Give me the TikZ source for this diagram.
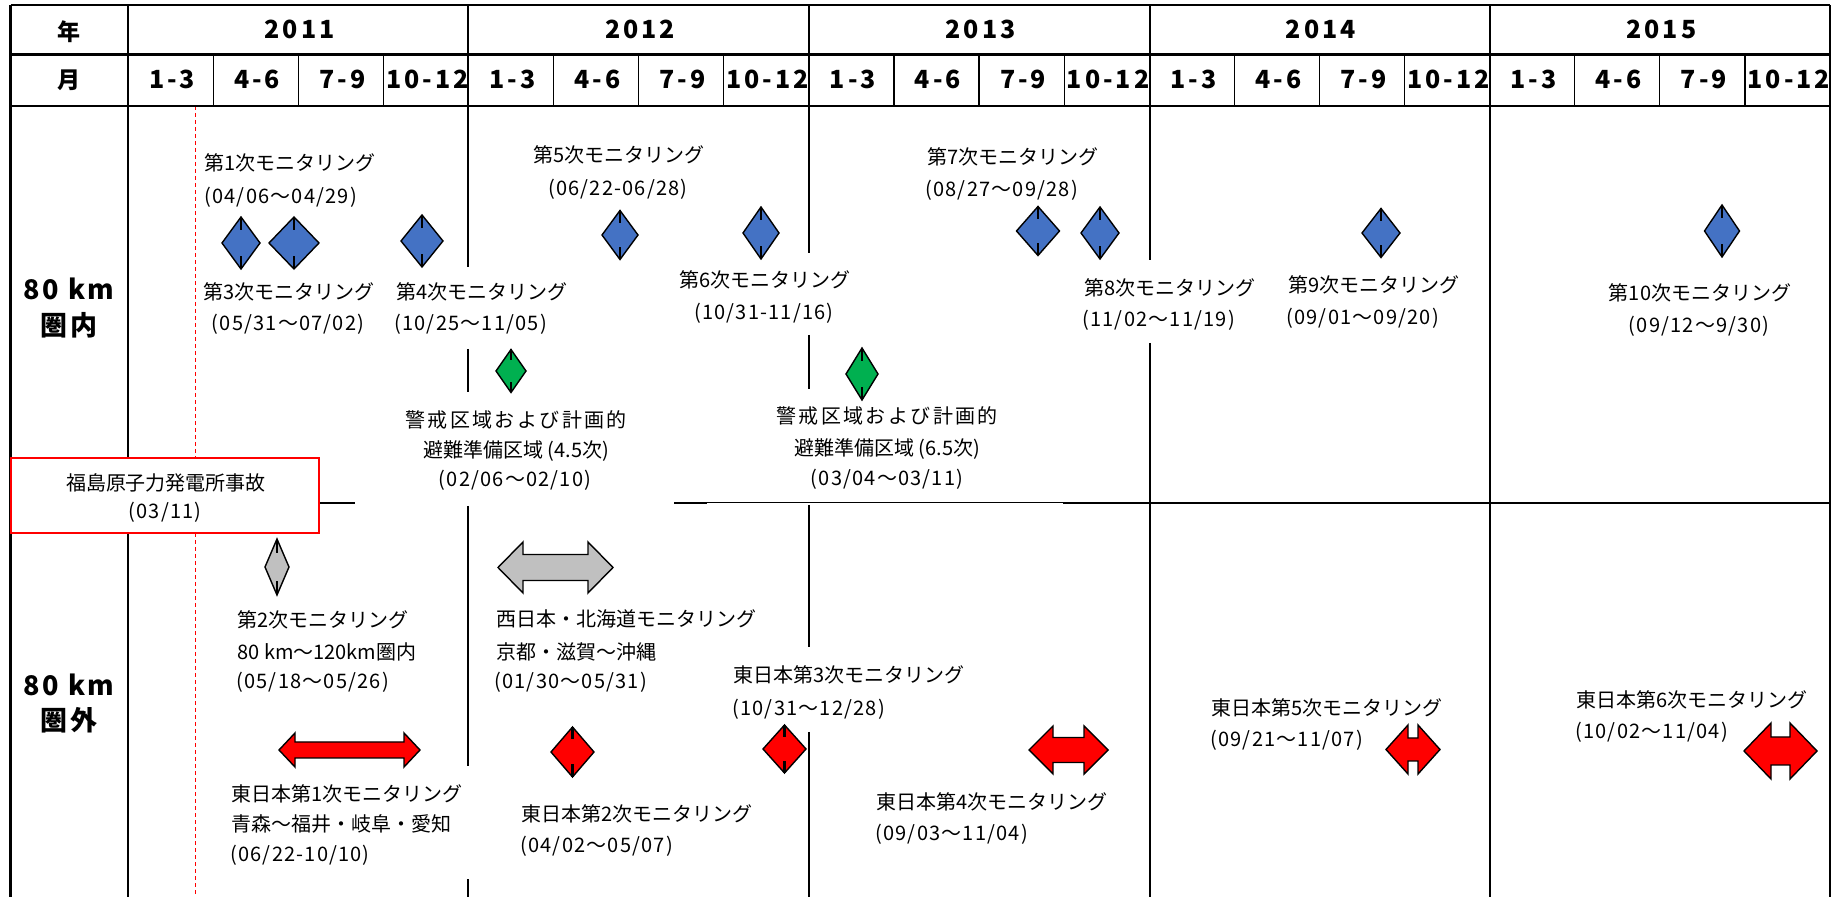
\documentclass[tikz,border=0pt]{standalone}
\usepackage{fontspec}
\setmainfont{Noto Sans CJK JP}
\newfontfamily\jp{Noto Sans CJK JP}
\newfontfamily\jpd{Noto Sans CJK JP}[LetterSpace=6]
\newfontfamily\hdnum{Noto Sans CJK JP}[LetterSpace=12]
\newfontfamily\rowf{Noto Sans CJK JP}[LetterSpace=10]
\usetikzlibrary{shapes.geometric,calc}
\definecolor{mblue}{HTML}{4472C4}
\definecolor{mgreen}{HTML}{00B050}
\definecolor{mgray}{HTML}{C0C0C0}
\definecolor{mred}{HTML}{FF0000}
\tikzset{
  gridthick/.style={line width=1.2pt,black},
  gridthin/.style={line width=0.6pt,black},
  mk/.style={diamond,draw=black,line width=0.7pt,inner sep=0pt,outer sep=0pt},
  tk/.style={line width=1.4pt,black},
  arrsh/.style={draw=black,line width=0.7pt,line join=miter},
  lbl/.style={font=\jp\fontsize{10pt}{12pt}\selectfont,inner sep=0pt,anchor=base west},
  lblc/.style={lbl,anchor=base},
  dlbl/.style={font=\jpd\fontsize{10pt}{12pt}\selectfont,inner sep=0pt,anchor=base west},
  dlblc/.style={dlbl,anchor=base},
  hdr/.style={font=\hdnum\bfseries\fontsize{12.5pt}{14pt}\selectfont,inner sep=0pt,anchor=base},
  hdrj/.style={font=\jp\bfseries\fontsize{11.5pt}{12pt}\selectfont,inner sep=0pt,anchor=base},
  rowl/.style={font=\rowf\bfseries\fontsize{13.5pt}{14pt}\selectfont,inner sep=0pt,anchor=base},
}
\newcommand\dia[6]{%
  \node[mk,fill=#6,minimum width=#4*0.5pt,minimum height=#5*0.5pt] (#1) at (#2,#3) {};
  \draw[tk] (#1.north) -- ($(#1.north)!0.25!(#1.south)$);
  \draw[tk] (#1.south) -- ($(#1.south)!0.25!(#1.north)$);}
% cx cy halfwidth halfheight halfshaft headlength colour
\newcommand\lrarrow[7]{%
  \draw[arrsh,fill=#7] ({#1-#3},#2) -- ({#1-#3+#6},{#2-#4}) -- ({#1-#3+#6},{#2-#5})
   -- ({#1+#3-#6},{#2-#5}) -- ({#1+#3-#6},{#2-#4}) -- ({#1+#3},#2)
   -- ({#1+#3-#6},{#2+#4}) -- ({#1+#3-#6},{#2+#5}) -- ({#1-#3+#6},{#2+#5})
   -- ({#1-#3+#6},{#2+#4}) -- cycle;}
\newcommand\tl[4]{\node[lbl] (#1) at (#2,#3+8) {#4};}
\newcommand\tc[4]{\node[lblc] (#1) at (#2,#3+8) {#4};}
\newcommand\dl[4]{\node[dlbl] (#1) at (#2,#3+8) {#4};}
\newcommand\dc[4]{\node[dlblc] (#1) at (#2,#3+8) {#4};}
\begin{document}
\begin{tikzpicture}[x=0.5pt,y=-0.5pt]
\useasboundingbox (0,0) rectangle (1843,897);
\fill[white] (0,0) rectangle (1843,897);
% red dashed line (accident date)
\draw[mred,line width=0.5pt,dash pattern=on 2pt off 1.5pt] (195,106) -- (195,897);
% header grid
\draw[gridthick] (10.5,5) -- (1830,5);
\draw[gridthick] (10.5,54.5) -- (1830,54.5);
\draw[gridthick] (10.5,106) -- (1830,106);
\draw[gridthick] (10.5,5) -- (10.5,897);
\draw[gridthick] (128,5) -- (128,897);
\draw[gridthick] (1490,5) -- (1490,897);
\draw[gridthick] (1830,5) -- (1830,897);
\draw[gridthick] (468,5) -- (468,267);
\draw[gridthick] (468,349) -- (468,392);
\draw[gridthick] (468,506) -- (468,766);
\draw[gridthick] (468,879) -- (468,897);
\draw[gridthick] (809,5) -- (809,253);
\draw[gridthick] (809,335) -- (809,389);
\draw[gridthick] (809,505) -- (809,647);
\draw[gridthick] (809,732) -- (809,897);
\draw[gridthick] (1150,5) -- (1150,260);
\draw[gridthick] (1150,343) -- (1150,897);
\foreach \k in {1,2,3,5,6,7,9,10,11,13,14,15,17,18,19}
  \draw[gridthin] ({128+85.1*\k},54.5) -- ({128+85.1*\k},106);
% middle separator
\draw[gridthick] (10.5,503) -- (355,503);
\draw[gridthick] (674,503) -- (707,503);
\draw[line width=0.5pt] (707,503) -- (1063,503);
\draw[gridthick] (1063,503) -- (1830,503);
% header texts
\node[hdrj] (nen) at (69,41) {年};
\node[hdrj] (tsuki) at (69,89) {月};
\foreach \yr [count=\i from 0] in {2011,2012,2013,2014,2015}
  \node[hdr] (y\yr) at ({128+340.4*(\i+0.5)+1.5},39) {\yr};
\foreach \yi in {0,...,4}
  \foreach \q [count=\qi from 0] in {1-3,4-6,7-9,10-12}
    \node[hdr] (q\yi\qi) at ({128+85.1*(4*\yi+\qi+0.5)+1.5},89) {\q};
% row labels
\node[rowl] (in80) at (69,300) {80 km};
\node[rowl] (inken) at (69,336) {圏内};
\node[rowl] (out80) at (69,696) {80 km};
\node[rowl] (outken) at (69,731) {圏外};
% accident box
\node[draw=mred,line width=1pt,fill=white,minimum width=154pt,minimum height=37.5pt,inner sep=0pt] (acc) at (165,495.5) {};
\node[lblc] (acca) at (166,491) {福島原子力発電所事故};
\node[dlblc] (accb) at (165,519) {(03/11)};
% markers inside 80 km
\dia{d1}{241}{243}{38}{52}{mblue}
\dia{d3}{294}{243}{50}{52}{mblue}
\dia{d4}{422}{241}{42}{52}{mblue}
\dia{d5}{620}{235}{36}{49}{mblue}
\dia{d6}{761}{233}{36}{52}{mblue}
\dia{d7}{1038}{231}{43}{49}{mblue}
\dia{d8}{1100}{233}{38}{52}{mblue}
\dia{d9}{1381}{233}{38}{49}{mblue}
\dia{d10}{1722}{231}{35}{52}{mblue}
\dia{g45}{511}{371}{30}{43}{mgreen}
\dia{g65}{862}{374}{32}{52}{mgreen}
% markers outside 80 km
\dia{s2}{277}{567}{24}{56}{mgray}
\dia{r2}{572.5}{752}{43}{50}{mred}
\dia{r3}{784.5}{749}{43}{48}{mred}
\lrarrow{555.5}{567.5}{57.5}{25.5}{13}{25}{mgray}
\lrarrow{349.5}{750}{70.5}{17}{8}{16}{mred}
\lrarrow{1068.5}{750}{39.5}{24}{12.5}{24}{mred}
\lrarrow{1413}{749.5}{27}{24.5}{11.5}{22}{mred}
\lrarrow{1780.5}{751}{36.5}{28}{14}{27}{mred}
% labels inside 80 km
\tl{t1a}{204}{163}{第1次モニタリング}
\dl{t1b}{204}{196}{(04/06～04/29)}
\tc{t3a}{289}{292}{第3次モニタリング}
\dc{t3b}{288}{323}{(05/31～07/02)}
\tl{t4a}{396}{292}{第4次モニタリング}
\dl{t4b}{394}{323}{(10/25～11/05)}
\tc{w45a}{516}{420}{\addfontfeature{LetterSpace=12}警戒区域および計画的}
\tc{w45b}{516}{450}{避難準備区域 (4.5次)}
\dc{w45c}{515}{479}{(02/06～02/10)}
\tc{t5a}{619}{155}{第5次モニタリング}
\dc{t5b}{618}{188}{(06/22-06/28)}
\tc{t6a}{765}{280}{第6次モニタリング}
\dc{t6b}{764}{312}{(10/31-11/16)}
\tl{t7a}{927}{157}{第7次モニタリング}
\dl{t7b}{925}{189}{(08/27～09/28)}
\tc{w65a}{887}{416}{\addfontfeature{LetterSpace=12}警戒区域および計画的}
\tc{w65b}{887}{448}{避難準備区域 (6.5次)}
\dc{w65c}{887}{478}{(03/04～03/11)}
\tl{t8a}{1084}{288}{第8次モニタリング}
\dl{t8b}{1082}{319}{(11/02～11/19)}
\tl{t9a}{1288}{285}{第9次モニタリング}
\dl{t9b}{1286}{317}{(09/01～09/20)}
\tc{t10a}{1700}{293}{第10次モニタリング}
\dc{t10b}{1699}{325}{(09/12～9/30)}
% labels outside 80 km
\tl{t2a}{237}{620}{第2次モニタリング}
\tl{t2b}{237}{652}{80 km～120km圏内}
\dl{t2c}{236}{681}{(05/18～05/26)}
\tl{wja}{496}{619}{西日本・北海道モニタリング}
\tl{wjb}{496}{652}{京都・滋賀～沖縄}
\dl{wjc}{494}{681}{(01/30～05/31)}
\tl{e1a}{231}{793}{東日本第1次モニタリング}
\tl{e1b}{231}{824}{青森～福井・岐阜・愛知}
\dl{e1c}{230}{854}{(06/22-10/10)}
\tl{e2a}{521}{813}{東日本第2次モニタリング}
\dl{e2b}{520}{844}{(04/02～05/07)}
\tl{e3a}{733}{675}{東日本第3次モニタリング}
\dl{e3b}{732}{708}{(10/31～12/28)}
\tl{e4a}{876}{802}{東日本第4次モニタリング}
\dl{e4b}{875}{833}{(09/03～11/04)}
\tl{e5a}{1211}{708}{東日本第5次モニタリング}
\dl{e5b}{1210}{739}{(09/21～11/07)}
\tl{e6a}{1576}{700}{東日本第6次モニタリング}
\dl{e6b}{1575}{731}{(10/02～11/04)}
\end{tikzpicture}
\end{document}
